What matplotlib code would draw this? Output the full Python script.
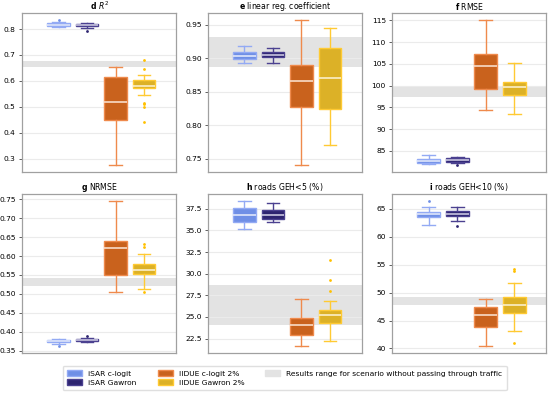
"""
Box plots of calibration metrics for iSAR and IIDUE assignment variants.
"""
import matplotlib
matplotlib.use("Agg")
import matplotlib.pyplot as plt
from matplotlib.patches import Patch
from matplotlib.ticker import MultipleLocator, FormatStrFormatter

# series order inside every panel
series = ["iSAR c-logit", "iSAR Gawron", "IIDUE c-logit 2%", "IIDUE Gawron 2%"]
face_colors = ["#6f8fe6", "#2d2470", "#c9621d", "#dcb127"]
line_colors = ["#93aaf4", "#4b4190", "#ef8a4c", "#ffca33"]
median_colors = ["#dfe6fb", "#c9c6e0", "#f8dcc8", "#fbefc8"]

titles = [r"$\bf{d}$ $R^2$", r"$\bf{e}$ linear reg. coefficient", r"$\bf{f}$ RMSE",
          r"$\bf{g}$ NRMSE", r"$\bf{h}$ roads GEH<5 (%)", r"$\bf{i}$ roads GEH<10 (%)"]
tick_steps = [0.1, 0.05, 5, 0.05, 2.5, 5]
tick_fmts = ["%.1f", "%.2f", "%d", "%.2f", "%.1f", "%d"]

# per panel: one value per series
whislo = [
    [0.806, 0.805, 0.276, 0.547],
    [0.8936, 0.8936, 0.741, 0.771],
    [81.96, 82.2, 94.3, 93.6],
    [0.368, 0.374, 0.505, 0.512],
    [35.2, 35.96, 21.67, 22.23],
    [62.2, 62.8, 40.47, 43.2],
]
q1 = [
    [0.810, 0.810, 0.449, 0.574],
    [0.899, 0.9015, 0.827, 0.825],
    [82.3, 82.5, 99.3, 97.8],
    [0.372, 0.376, 0.550, 0.552],
    [35.96, 36.35, 22.95, 24.36],
    [63.5, 63.7, 43.75, 46.3],
]
med = [
    [0.817, 0.815, 0.519, 0.579],
    [0.904, 0.9054, 0.866, 0.871],
    [82.7, 82.9, 104.5, 99.7],
    [0.375, 0.379, 0.620, 0.562],
    [36.8, 36.8, 24.05, 25.27],
    [64.0, 64.1, 45.9, 47.8],
]
q3 = [
    [0.824, 0.820, 0.615, 0.602],
    [0.909, 0.910, 0.890, 0.916],
    [83.25, 83.3, 107.3, 100.8],
    [0.378, 0.381, 0.639, 0.578],
    [37.58, 37.4, 24.85, 25.8],
    [64.5, 64.6, 47.5, 49.2],
]
whishi = [
    [0.828, 0.823, 0.653, 0.624],
    [0.9178, 0.9163, 0.957, 0.946],
    [84.09, 83.7, 115.0, 105.1],
    [0.382, 0.383, 0.745, 0.606],
    [38.4, 38.15, 27.1, 26.9],
    [65.4, 65.4, 48.85, 51.7],
]
fliers = [
    [[0.834], [0.794], [], [0.681, 0.647, 0.515, 0.510, 0.500, 0.442]],
    [[], [], [], []],
    [[], [81.8], [], []],
    [[0.363], [0.389], [], [0.633, 0.623, 0.505]],
    [[], [], [], [31.6, 29.3, 27.96]],
    [[66.4], [62.0], [], [54.3, 53.9, 41.0]],
]
# grey band: results range for scenario without passing through traffic
band_lo = [0.653, 0.887, 97.5, 0.522, 24.05, 47.7]
band_hi = [0.677, 0.932, 99.6, 0.543, 28.7, 49.15]

plt.rcParams["font.family"] = "DejaVu Sans"
plt.rcParams["font.size"] = 5.4

fig = plt.figure(figsize=(5.5, 3.94), dpi=100)
lefts = [0.040, 0.378, 0.713]
bottoms = [0.563, 0.104]
w, h = 0.28, 0.404

positions = [0, 1, 2, 3]
for k in range(6):
    ax = fig.add_axes([lefts[k % 3], bottoms[k // 3], w, h])
    stats = []
    for j in range(4):
        stats.append(dict(whislo=whislo[k][j], q1=q1[k][j], med=med[k][j],
                          q3=q3[k][j], whishi=whishi[k][j], fliers=fliers[k][j]))
    ax.axhspan(band_lo[k], band_hi[k], color="#e3e3e3", zorder=0.5, lw=0)
    for j in range(4):
        ax.bxp([stats[j]], positions=[positions[j]], widths=0.8, patch_artist=True,
               boxprops=dict(facecolor=face_colors[j], edgecolor=line_colors[j], lw=1),
               whiskerprops=dict(color=line_colors[j], lw=1),
               capprops=dict(color=line_colors[j], lw=1),
               medianprops=dict(color=median_colors[j], lw=1.2),
               flierprops=dict(marker="o", markersize=2, markerfacecolor=face_colors[j]
                               if j != 3 else "#ffc000",
                               markeredgecolor="none"),
               capwidths=0.45)
    ax.set_xlim(-1.28, 4.12)
    ax.set_xticks([])
    ax.yaxis.set_major_locator(MultipleLocator(tick_steps[k]))
    ax.yaxis.set_major_formatter(FormatStrFormatter(tick_fmts[k]))
    ax.set_title(titles[k], fontsize=5.6, pad=2.5)
    ax.grid(axis="y", color="#ebebeb", lw=0.8)
    ax.set_axisbelow(True)
    for s in ax.spines.values():
        s.set_color("#a0a0a0")
        s.set_linewidth(0.9)
    ax.tick_params(axis="y", length=2.5, width=0.7, color="#606060", pad=2, labelsize=5.4)

handles = [Patch(facecolor=face_colors[0], edgecolor=line_colors[0], label=series[0]),
           Patch(facecolor=face_colors[1], edgecolor=line_colors[1], label=series[1]),
           Patch(facecolor=face_colors[2], edgecolor=line_colors[2], label=series[2]),
           Patch(facecolor=face_colors[3], edgecolor=line_colors[3], label=series[3]),
           Patch(facecolor="#e3e3e3", edgecolor="#e3e3e3",
                 label="Results range for scenario without passing through traffic")]
fig.legend(handles=handles, ncol=3, loc="lower center", bbox_to_anchor=(0.518, 0.0),
           fontsize=5.4, frameon=True, edgecolor="#d8d8d8", handlelength=2.0,
           handleheight=0.8, columnspacing=2.8, borderpad=0.6, labelspacing=0.35)

fig.savefig("out.png", dpi=100)
